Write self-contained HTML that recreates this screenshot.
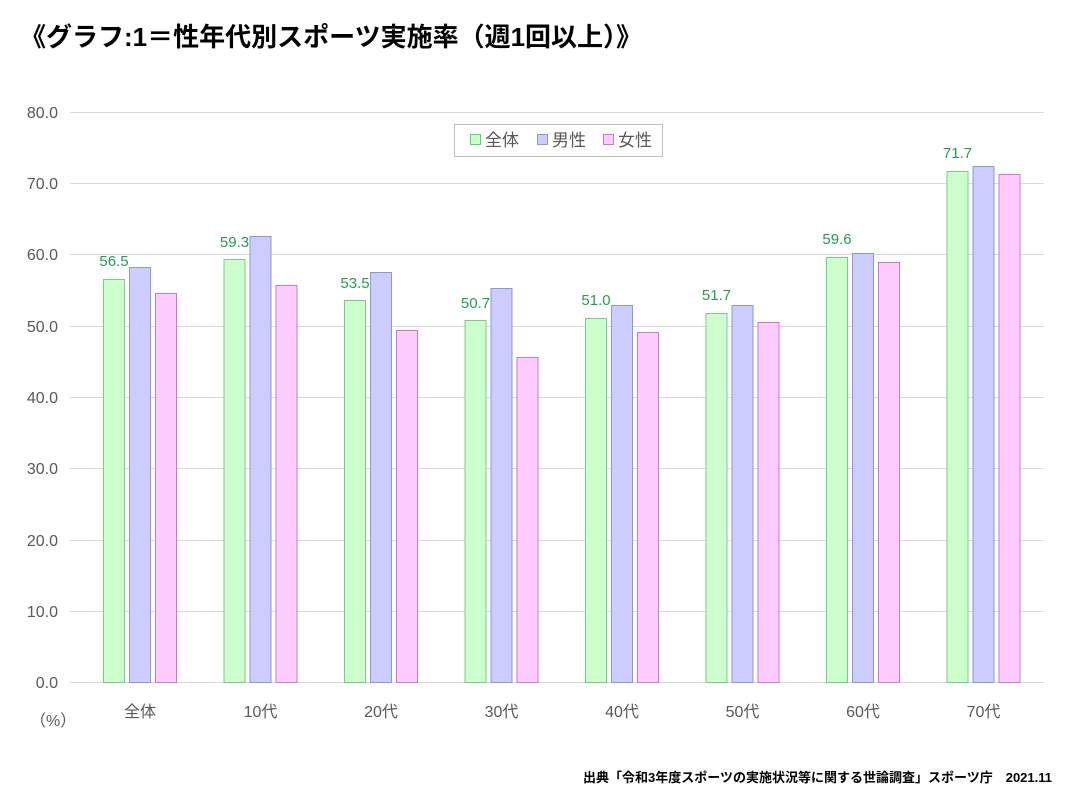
<!DOCTYPE html>
<html><head><meta charset="utf-8"><style>
body{margin:0;background:#fff;width:1072px;height:795px;overflow:hidden}
svg{display:block}
</style></head><body>
<svg width="1072" height="795" xmlns="http://www.w3.org/2000/svg" font-family="'Liberation Sans','Noto Sans CJK JP',sans-serif">
<text x="20" y="46" font-size="26" font-weight="bold" fill="#000">《グラフ:1＝性年代別スポーツ実施率（週1回以上）》</text>
<g stroke="#d9d9d9" stroke-width="1">
<line x1="70" x2="1044" y1="112.5" y2="112.5"/><line x1="70" x2="1044" y1="183.5" y2="183.5"/>
<line x1="70" x2="1044" y1="254.5" y2="254.5"/><line x1="70" x2="1044" y1="326.5" y2="326.5"/>
<line x1="70" x2="1044" y1="397.5" y2="397.5"/><line x1="70" x2="1044" y1="468.5" y2="468.5"/>
<line x1="70" x2="1044" y1="540.5" y2="540.5"/><line x1="70" x2="1044" y1="611.5" y2="611.5"/>
<line x1="70" x2="1044" y1="682.5" y2="682.5"/>
</g>
<g font-size="16" fill="#595959" text-anchor="end">
<text x="58" y="118">80.0</text><text x="58" y="189">70.0</text><text x="58" y="260">60.0</text>
<text x="58" y="332">50.0</text><text x="58" y="403">40.0</text><text x="58" y="474">30.0</text>
<text x="58" y="546">20.0</text><text x="58" y="617">10.0</text><text x="58" y="688">0.0</text>
</g>
<text x="30" y="726" font-size="16" fill="#595959">（%）</text>
<g fill="#ccffcc" stroke="#77cc88">
<rect x="103.5" y="279.5" width="21" height="403"/>
<rect x="224" y="259.5" width="21" height="423"/>
<rect x="344.5" y="300.5" width="21" height="382"/>
<rect x="465" y="320.5" width="21" height="362"/>
<rect x="585.5" y="318.5" width="21" height="364"/>
<rect x="706" y="313.5" width="21" height="369"/>
<rect x="826.5" y="257.5" width="21" height="425"/>
<rect x="947" y="171.5" width="21" height="511"/>
</g>
<g fill="#ccccff" stroke="#8899dd">
<rect x="129.5" y="267.5" width="21" height="415"/>
<rect x="250" y="236.5" width="21" height="446"/>
<rect x="370.5" y="272.5" width="21" height="410"/>
<rect x="491" y="288.5" width="21" height="394"/>
<rect x="611.5" y="305.5" width="21" height="377"/>
<rect x="732" y="305.5" width="21" height="377"/>
<rect x="852.5" y="253.5" width="21" height="429"/>
<rect x="973" y="166.5" width="21" height="516"/>
</g>
<g fill="#ffccff" stroke="#cc77cc">
<rect x="155.5" y="293.5" width="21" height="389"/>
<rect x="276" y="285.5" width="21" height="397"/>
<rect x="396.5" y="330.5" width="21" height="352"/>
<rect x="517" y="357.5" width="21" height="325"/>
<rect x="637.5" y="332.5" width="21" height="350"/>
<rect x="758" y="322.5" width="21" height="360"/>
<rect x="878.5" y="262.5" width="21" height="420"/>
<rect x="999" y="174.5" width="21" height="508"/>
</g>
<g font-size="15" fill="#22a050" text-anchor="middle">
<text x="114" y="266">56.5</text>
<text x="234.5" y="247">59.3</text>
<text x="355" y="288">53.5</text>
<text x="475.5" y="308">50.7</text>
<text x="596" y="305">51.0</text>
<text x="716.5" y="300">51.7</text>
<text x="837" y="244">59.6</text>
<text x="957.5" y="158">71.7</text>
</g>
<g font-size="16" fill="#595959" text-anchor="middle">
<text x="140" y="717">全体</text>
<text x="260.5" y="717">10代</text>
<text x="381" y="717">20代</text>
<text x="501.5" y="717">30代</text>
<text x="622" y="717">40代</text>
<text x="742.5" y="717">50代</text>
<text x="863" y="717">60代</text>
<text x="983.5" y="717">70代</text>
</g>
<rect x="454.5" y="124.5" width="208" height="32" fill="#fff" stroke="#bfbfbf"/>
<rect x="470.5" y="134.5" width="10" height="10" fill="#ccffcc" stroke="#66cc77"/>
<text x="485" y="146" font-size="17" fill="#595959">全体</text>
<rect x="537.5" y="134.5" width="10" height="10" fill="#ccccff" stroke="#8899dd"/>
<text x="552" y="146" font-size="17" fill="#595959">男性</text>
<rect x="603.5" y="134.5" width="10" height="10" fill="#ffccff" stroke="#cc77cc"/>
<text x="618" y="146" font-size="17" fill="#595959">女性</text>
<text x="1052" y="782" font-size="13" font-weight="bold" fill="#000" text-anchor="end">出典「令和3年度スポーツの実施状況等に関する世論調査」スポーツ庁　2021.11</text>
</svg>
</body></html>
